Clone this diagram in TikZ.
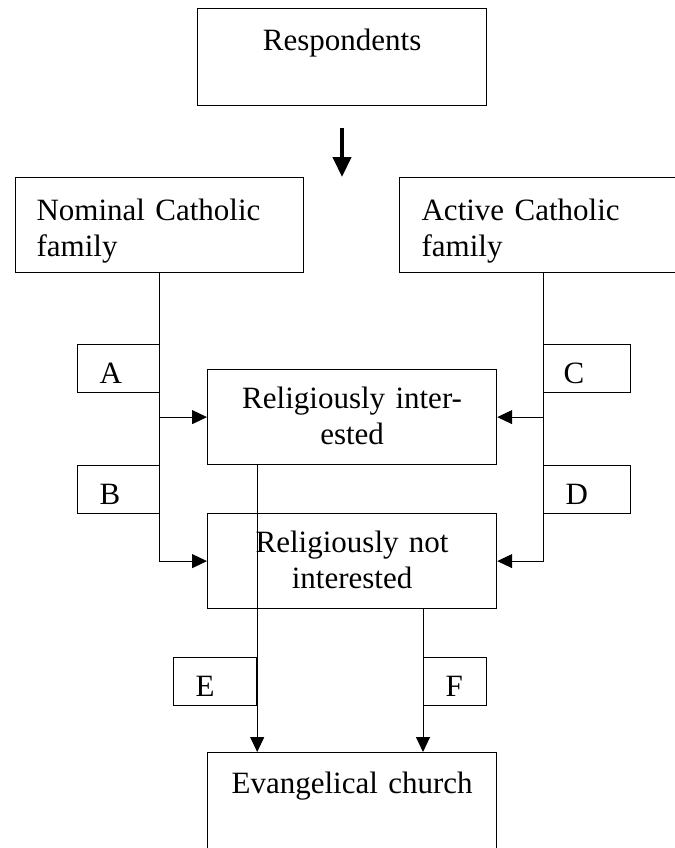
\documentclass[tikz,border=0pt]{standalone}
\usepackage{fontspec}
\setmainfont{Liberation Serif}
\usetikzlibrary{arrows.meta}
\begin{document}
\begin{tikzpicture}[x=1bp,y=-1bp,
  every node/.style={font=\fontsize{31bp}{36bp}\selectfont, inner ysep=0pt},
  box/.style={draw, line width=1.2bp, rectangle, anchor=north west},
  lbox/.style={box, inner xsep=22bp, align=left, text height=39bp, text depth=9bp},
  conn/.style={line width=1bp, -{Triangle[width=14bp,length=15bp]}},
  thick arrow/.style={line width=4.5bp, -{Triangle[width=18bp,length=20bp]}}]
\useasboundingbox (0,0) rectangle (675,848);
\clip (0,0) rectangle (675,848);

\node[box, inner xsep=0pt, text width=289bp, align=center, text height=42bp, text depth=55bp] (resp) at (197,8) {Respondents};

\coordinate (th1) at (342,128);
\coordinate (th2) at (342,177);
\draw[thick arrow] (th1) -- (th2);

\node[box, inner xsep=21bp, text width=246bp, align=left, text height=43bp, text depth=52bp] (nom) at (15,177) {Nominal Catholic\\family};
\node[box, inner xsep=22bp, text width=244bp, align=left, text height=43bp, text depth=52bp] (act) at (399,177) {Active Catholic\\family};

\node[box, inner xsep=0pt, text width=289bp, align=center, text height=39bp, text depth=56bp] (ri) at (207,369) {Religiously inter-\\ested};
\node[box, inner xsep=0pt, text width=289bp, align=center, text height=39bp, text depth=56bp] (rni) at (207,513) {Religiously not\\interested};
\node[box, inner xsep=0pt, text width=289bp, align=center, text height=41bp, text depth=77bp] (ev) at (207,752) {Evangelical church};

\node[lbox, text width=38bp] (aL) at (77,344) {A};
\node[lbox, text width=38bp] (bL) at (77,465) {B};
\node[lbox, inner xsep=20bp, text width=47bp] (cL) at (543,344) {C};
\node[lbox, text width=43bp] (dL) at (543,465) {D};
\node[lbox, text width=39bp] (eL) at (173,657) {E};
\node[lbox, text width=19bp] (fL) at (423,657) {F};

\draw[conn] (nom.south) |- (rni.west);
\draw[conn] (nom.south |- ri.west) -- (ri.west);
\draw[conn] (act.south) |- (rni.east);
\draw[conn] (act.south |- ri.east) -- (ri.east);
\draw[conn] (ri.south -| eL.east) -- (ev.north -| eL.east);
\draw[conn] (rni.south -| fL.west) -- (ev.north -| fL.west);
\end{tikzpicture}
\end{document}
